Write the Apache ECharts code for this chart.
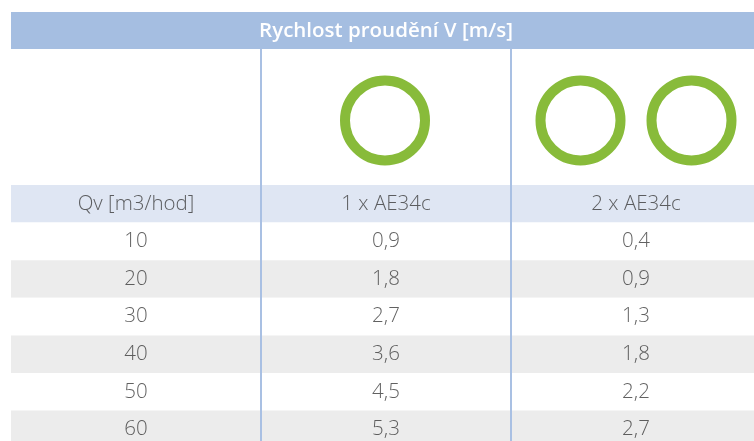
<!DOCTYPE html>
<html>
<head>
<meta charset="utf-8">
<script src="https://cdn.jsdelivr.net/npm/echarts@6/dist/echarts.min.js"></script>
<style>
html,body{margin:0;padding:0;background:#fff;}
#c{width:754px;height:441px;}
</style>
</head>
<body>
<div id="c"></div>
<script>
const title = 'Rychlost proudění V [m/s]';
const columns = ['Qv [m3/hod]', '1 x AE34c', '2 x AE34c'];
const qv = [10, 20, 30, 40, 50, 60];
const v1 = [0.9, 1.8, 2.7, 3.6, 4.5, 5.3];
const v2 = [0.4, 0.9, 1.3, 1.8, 2.2, 2.7];
// ring markers per column header (column index, offset within column)
const rings = [[1, 0.496], [2, 0.278], [2, 0.722]];

const rowKeys = ['head'].concat(qv.map(String));
const fmt = v => String(v).replace('.', ',');

const textData = [];
columns.forEach((c, i) => textData.push({value: [i + 0.5, 'head'], label: {formatter: c}}));
qv.forEach((q, r) => {
  textData.push({value: [0.5, String(q)], label: {formatter: String(q)}});
  textData.push({value: [1.5, String(q)], label: {formatter: fmt(v1[r])}});
  textData.push({value: [2.5, String(q)], label: {formatter: fmt(v2[r])}});
});

const FONT = '"Open Sans"';
const TXT = '#3a3a3a';
const LINE = '#a9c0e3';

const chart = echarts.init(document.getElementById('c'), null, {renderer: 'canvas'});
chart.setOption({
  backgroundColor: '#ffffff',
  animation: false,
  graphic: [{
    type: 'rect', left: 11, top: 12, z: 0,
    shape: {width: 760, height: 37},
    style: {fill: '#a5bee1'}
  }],
  title: {
    text: title, left: 386, top: 12, textAlign: 'center',
    padding: 0,
    textStyle: {color: '#ffffff', fontFamily: FONT, fontSize: 20.5, fontWeight: 600, lineHeight: 38, height: 37}
  },
  grid: [
    {left: 11, top: 49, width: 750, height: 136, containLabel: false, outerBoundsMode: 'none'},
    {left: 11, top: 185, width: 750, height: 263.2, containLabel: false, outerBoundsMode: 'none'}
  ],
  xAxis: [
    {gridIndex: 0, type: 'value', min: 0, max: 3, interval: 1,
     axisLine: {show: false}, axisTick: {show: false}, axisLabel: {show: false},
     splitLine: {show: true, showMinLine: false, showMaxLine: false, lineStyle: {color: LINE, width: 2}}},
    {gridIndex: 1, type: 'value', min: 0, max: 3, interval: 1,
     axisLine: {show: false}, axisTick: {show: false}, axisLabel: {show: false},
     splitLine: {show: true, showMinLine: false, showMaxLine: false, lineStyle: {color: LINE, width: 2}}}
  ],
  yAxis: [
    {gridIndex: 0, type: 'value', min: 0, max: 1, show: false},
    {gridIndex: 1, type: 'category', inverse: true, data: rowKeys,
     axisLine: {show: false}, axisTick: {show: false}, axisLabel: {show: false},
     splitLine: {show: false},
     splitArea: {show: true, areaStyle: {color: ['#dfe6f3', '#ffffff', '#ececec', '#ffffff', '#ececec', '#ffffff', '#ececec']}}}
  ],
  series: [
    {
      type: 'scatter', xAxisIndex: 0, yAxisIndex: 0, silent: true,
      symbol: 'circle', symbolSize: 80,
      itemStyle: {color: 'rgba(0,0,0,0)', borderColor: '#88bb3a', borderWidth: 10, opacity: 1},
      data: rings.map(r => [r[0] + r[1], 0.475])
    },
    {
      type: 'scatter', xAxisIndex: 1, yAxisIndex: 1, silent: true,
      symbolSize: 0.1, itemStyle: {color: 'rgba(0,0,0,0)'},
      label: {show: true, position: 'inside', color: TXT, fontFamily: FONT, fontSize: 20.5, fontWeight: 300},
      data: textData
    }
  ]
});
</script>
</body>
</html>
